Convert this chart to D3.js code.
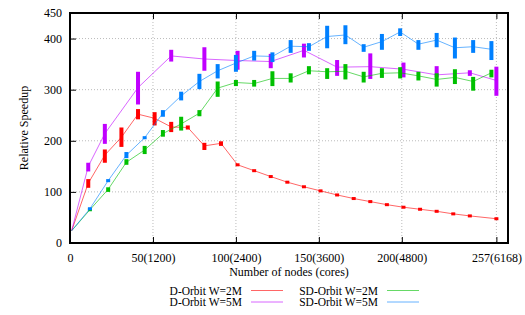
<!DOCTYPE html>
<html>
<head>
<meta charset="utf-8">
<script src="https://cdn.jsdelivr.net/npm/d3@7"></script>
<style>
  body { margin: 0; background: #fff; }
</style>
</head>
<body>
<svg id="chart" width="525" height="315"></svg>
<script>
// D-Orbit runs
let dNodes2M = [1, 11, 21, 31, 41, 51, 61, 71, 81, 91, 101, 111, 121, 131, 141, 151, 161, 171, 181, 191, 201, 211, 221, 231, 241, 257]
let d2MMean = [24, 117, 172, 207, 252, 244, 227, 226, 190, 195, 153, 141.5, 130, 119, 110, 102, 94, 87, 81, 75, 70, 66, 62, 57, 53, 47.5]
let d2MMin = [24, 108, 157, 188, 242, 230, 217, 222, 182, 190, 152, 140, 129, 118, 109, 101, 93, 86, 80, 74, 69, 65, 61, 56, 52, 46.5]
let d2MMax = [24, 125, 183, 226, 262, 256, 237, 230, 196, 199, 155, 143, 131, 120, 111, 103, 95, 88, 82, 76, 71, 67, 63, 58, 54, 48.5]

let dNodes5M = [1, 11, 21, 41, 61, 81, 101, 121, 141, 161, 181, 201, 221, 241, 257]
let d5MMean = [24, 150, 214, 304, 366, 360, 357, 355, 377, 344, 345, 340, 329, 333, 318]
let d5MMin = [24, 140, 194, 271, 355, 337, 339, 342, 363, 327, 321, 324, 324, 327, 288]
let d5MMax = [24, 157, 233, 335, 378, 383, 376, 370, 390, 358, 371, 353, 346, 338, 345]

// SD-Orbit runs
let sdNodes = [1, 12, 23, 34, 45, 56, 67, 78, 89, 100, 111, 122, 133, 144, 155, 166, 177, 188, 199, 210, 221, 232, 243, 254]
let sd2MMean = [24, 65, 105, 158, 182, 214, 233, 254, 303, 314, 312, 322, 322, 337, 335, 336, 325, 332, 333, 327, 320, 324, 316, 333]
let sd2MMin = [24, 63, 100, 153, 174, 208, 220, 248, 286, 307, 306, 307, 314, 330, 321, 320, 314, 323, 322, 318, 306, 311, 298, 324]
let sd2MMax = [24, 68, 109, 164, 190, 221, 247, 260, 316, 319, 319, 336, 332, 346, 342, 350, 335, 342, 344, 335, 332, 340, 325, 339]

let sd5MMean = [24, 67, 122, 172, 206, 254, 288, 316, 337, 352, 366, 365, 385, 384, 404, 407, 383, 394, 413, 389, 397, 382, 384, 379]
let sd5MMin = [24, 65, 119, 166, 203, 247, 279, 301, 322, 335, 357, 354, 372, 376, 381, 389, 374, 378, 405, 378, 383, 361, 372, 358]
let sd5MMax = [24, 70, 125, 178, 209, 260, 296, 331, 350, 368, 376, 373, 397, 391, 425, 426, 389, 409, 420, 397, 411, 402, 397, 395]

let xTicks = [0, 50, 100, 150, 200, 257]
let xTickLabels = ["0", "50(1200)", "100(2400)", "150(3600)", "200(4800)", "257(6168)"]
let yTicks = [0, 100, 200, 300, 400, 450]

let seriesNames = ["D-Orbit W=2M", "D-Orbit W=5M", "SD-Orbit W=2M", "SD-Orbit W=5M"]
let colors = ["#ff0000", "#c000ff", "#00c000", "#0080ff"]

const FONT = "'Liberation Serif', 'Times New Roman', serif"

function makeSeries(nodes, mean, lo, hi) {
    return nodes.map((n, i) => ({ x: n, y: mean[i], lo: lo[i], hi: hi[i] }))
}

let allSeries = [
    makeSeries(dNodes2M, d2MMean, d2MMin, d2MMax),
    makeSeries(dNodes5M, d5MMean, d5MMin, d5MMax),
    makeSeries(sdNodes, sd2MMean, sd2MMin, sd2MMax),
    makeSeries(sdNodes, sd5MMean, sd5MMin, sd5MMax)
]

let plotLeft = 70, plotRight = 508, plotTop = 13, plotBottom = 243

let x = d3.scaleLinear().domain([0, 264]).range([plotLeft, plotRight])
let y = d3.scaleLinear().domain([0, 450]).range([plotBottom, plotTop])

let svg = d3.select('#chart')

// grid
svg.append("g").selectAll("line")
    .data(yTicks.filter(t => t > 0 && t < 450))
    .enter().append("line")
    .attr("x1", plotLeft).attr("x2", plotRight)
    .attr("y1", d => y(d)).attr("y2", d => y(d))
    .style("stroke", "#bbb").style("stroke-dasharray", "1,2")

svg.append("g").selectAll("line")
    .data(xTicks.filter(t => t > 0))
    .enter().append("line")
    .attr("x1", d => x(d)).attr("x2", d => x(d))
    .attr("y1", plotTop).attr("y2", plotBottom)
    .style("stroke", "#bbb").style("stroke-dasharray", "1,2")

// axes
let xAxis = d3.axisBottom(x).tickValues(xTicks).tickSize(-6).tickPadding(10)
    .tickFormat((d, i) => xTickLabels[i])
let gx = svg.append("g").attr("transform", "translate(0," + plotBottom + ")").call(xAxis)
gx.select(".domain").remove()

let xTopAxis = d3.axisTop(x).tickValues(xTicks.filter(t => t > 0)).tickSize(-6).tickFormat("")
let gxt = svg.append("g").attr("transform", "translate(0," + plotTop + ")").call(xTopAxis)
gxt.select(".domain").remove()

let yAxis = d3.axisLeft(y).tickValues(yTicks).tickSize(-6).tickPadding(8)
let gy = svg.append("g").attr("transform", "translate(" + plotLeft + ",0)").call(yAxis)
gy.select(".domain").remove()

svg.selectAll(".tick line").style("stroke", "#000")

// border
svg.append("rect")
    .attr("x", plotLeft).attr("y", plotTop)
    .attr("width", plotRight - plotLeft).attr("height", plotBottom - plotTop)
    .style("fill", "none").style("stroke", "#000").style("stroke-width", 2)

// lines + candlesticks
let line = d3.line().x(d => x(d.x)).y(d => y(d.y))

allSeries.forEach(function (data, k) {
    svg.append("path")
        .datum(data)
        .attr("d", line)
        .style("fill", "none")
        .style("stroke", colors[k])
        .style("stroke-opacity", 0.6)
        .style("stroke-width", 1)

    svg.append("g").selectAll("rect")
        .data(data.filter(d => d.x > 1))
        .enter().append("rect")
        .attr("x", d => x(d.x) - 2)
        .attr("width", 4)
        .attr("y", d => Math.min(y(d.hi), y(d.y) - 1.5))
        .attr("height", d => Math.max(y(d.lo) - y(d.hi), 3))
        .style("fill", colors[k])
})

// labels
svg.append("text")
    .attr("x", (plotLeft + plotRight) / 2).attr("y", 276)
    .attr("text-anchor", "middle")
    .text("Number of nodes (cores)")

svg.append("text")
    .attr("transform", "translate(28," + ((plotTop + plotBottom) / 2) + ") rotate(-90)")
    .attr("text-anchor", "middle")
    .text("Relative Speedup")

// key
for (let i = 0; i < seriesNames.length; i++) {
    let col = Math.floor(i / 2), row = i % 2
    let tx = col == 0 ? 242 : 378
    let ly = 290.5 + row * 11.5
    svg.append("text")
        .attr("x", tx).attr("y", ly + 4)
        .attr("text-anchor", "end")
        .style("font-size", "11.5px")
        .text(seriesNames[i])
    svg.append("line")
        .attr("x1", tx + 9).attr("x2", tx + 41)
        .attr("y1", ly).attr("y2", ly)
        .style("stroke", colors[i])
        .style("stroke-opacity", 0.6)
}

// every text in the serif face, gnuplot style
svg.selectAll("text")
    .style("font-family", FONT)
    .style("font-size", function () { return this.style.fontSize || "12px" })
    .style("fill", "#000")
</script>
</body>
</html>
